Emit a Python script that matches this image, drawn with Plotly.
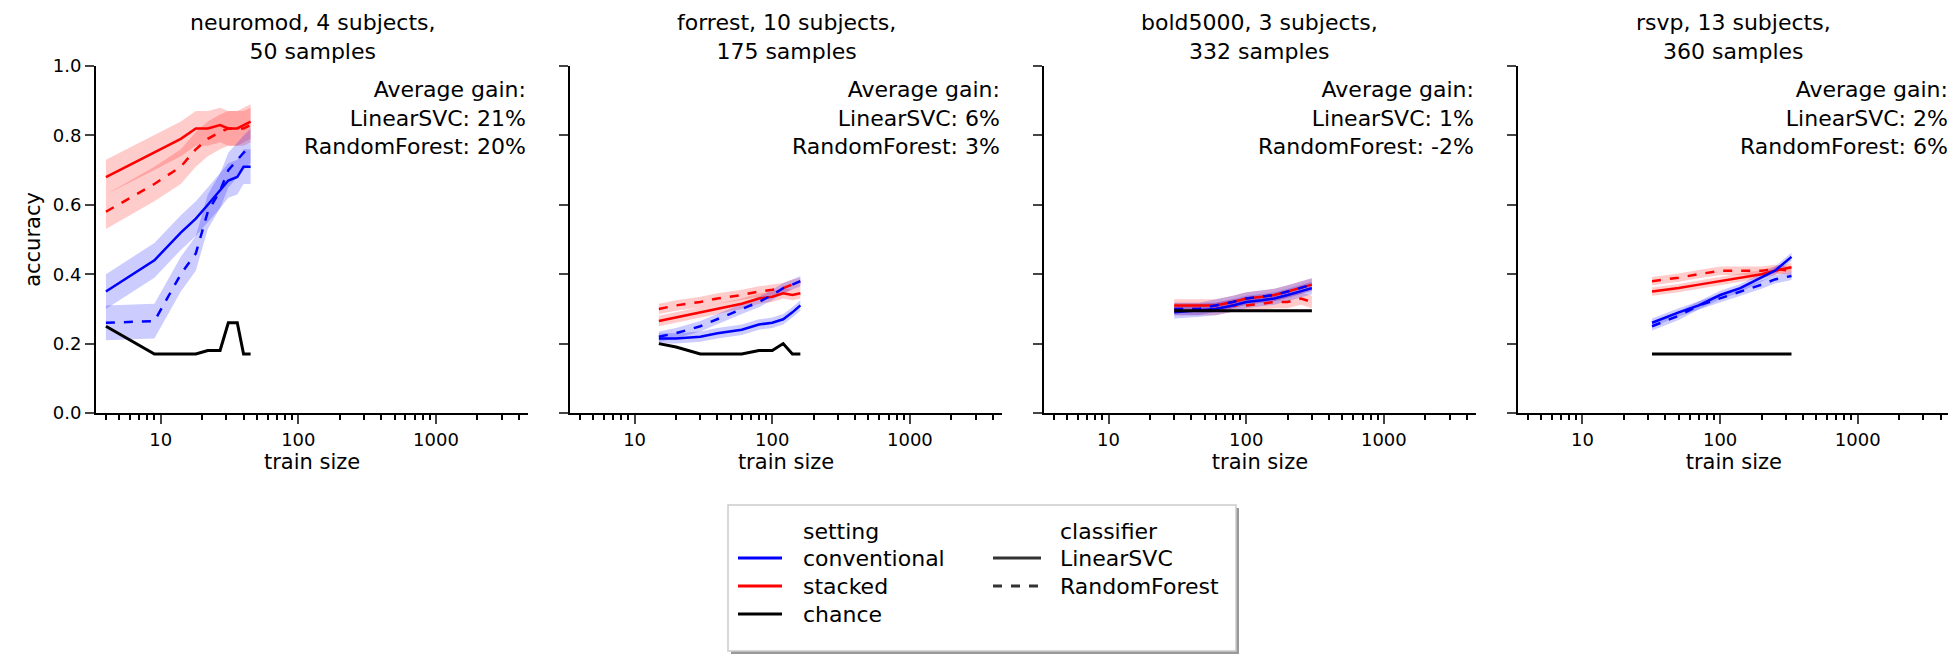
import numpy as np
import plotly.graph_objects as go
from plotly.subplots import make_subplots

titles = ["neuromod, 4 subjects,<br>50 samples", "forrest, 10 subjects,<br>175 samples",
          "bold5000, 3 subjects,<br>332 samples", "rsvp, 13 subjects,<br>360 samples"]
gains_svc = ["21%", "6%", "1%", "2%"]
gains_rf = ["20%", "3%", "-2%", "6%"]

neuromod_x = [4, 9, 14, 18, 22, 27, 31, 36, 40, 45]
neuromod_chance = [0.25, 0.17, 0.17, 0.17, 0.18, 0.18, 0.26, 0.26, 0.17, 0.17]
neuromod_conv_svc = [0.35, 0.44, 0.52, 0.56, 0.60, 0.64, 0.67, 0.68, 0.71, 0.71]
neuromod_conv_rf = [0.26, 0.265, 0.40, 0.46, 0.58, 0.64, 0.70, 0.73, 0.75, 0.77]
neuromod_stack_svc = [0.68, 0.75, 0.79, 0.82, 0.82, 0.83, 0.82, 0.82, 0.83, 0.84]
neuromod_stack_rf = [0.58, 0.66, 0.71, 0.76, 0.79, 0.81, 0.82, 0.82, 0.82, 0.83]
neuromod_err = [0.05, 0.05, 0.05, 0.05, 0.05, 0.05, 0.05, 0.05, 0.05, 0.05]

forrest_x = [15, 20, 30, 40, 60, 80, 100, 120, 140, 160]
forrest_chance = [0.20, 0.19, 0.17, 0.17, 0.17, 0.18, 0.18, 0.20, 0.17, 0.17]
forrest_conv_svc = [0.215, 0.215, 0.22, 0.23, 0.24, 0.255, 0.26, 0.27, 0.29, 0.31]
forrest_conv_rf = [0.22, 0.23, 0.25, 0.27, 0.30, 0.32, 0.34, 0.36, 0.37, 0.38]
forrest_stack_svc = [0.265, 0.275, 0.29, 0.30, 0.315, 0.33, 0.335, 0.345, 0.34, 0.345]
forrest_stack_rf = [0.30, 0.31, 0.32, 0.33, 0.34, 0.35, 0.355, 0.36, 0.37, 0.375]
forrest_err = [0.015] * 10

bold_x = [30, 45, 60, 80, 100, 130, 160, 200, 250, 300]
bold_chance = [0.295] * 10
bold_conv_svc = [0.29, 0.295, 0.30, 0.31, 0.32, 0.325, 0.33, 0.34, 0.35, 0.36]
bold_conv_rf = [0.30, 0.30, 0.31, 0.32, 0.33, 0.335, 0.34, 0.35, 0.36, 0.37]
bold_stack_svc = [0.31, 0.31, 0.31, 0.32, 0.33, 0.335, 0.34, 0.35, 0.36, 0.37]
bold_stack_rf = [0.30, 0.30, 0.30, 0.31, 0.31, 0.315, 0.32, 0.32, 0.33, 0.32]
bold_err = [0.018] * 10

rsvp_x = [32, 50, 70, 100, 140, 200, 250, 330]
rsvp_chance = [0.17] * 8
rsvp_conv_svc = [0.26, 0.29, 0.31, 0.34, 0.36, 0.39, 0.41, 0.45]
rsvp_conv_rf = [0.25, 0.28, 0.31, 0.33, 0.35, 0.37, 0.385, 0.395]
rsvp_stack_svc = [0.35, 0.36, 0.37, 0.38, 0.39, 0.40, 0.41, 0.42]
rsvp_stack_rf = [0.38, 0.39, 0.40, 0.41, 0.41, 0.41, 0.415, 0.41]
rsvp_err = [0.012] * 8

panels = [
    (neuromod_x, neuromod_chance, neuromod_conv_svc, neuromod_conv_rf, neuromod_stack_svc, neuromod_stack_rf, neuromod_err),
    (forrest_x, forrest_chance, forrest_conv_svc, forrest_conv_rf, forrest_stack_svc, forrest_stack_rf, forrest_err),
    (bold_x, bold_chance, bold_conv_svc, bold_conv_rf, bold_stack_svc, bold_stack_rf, bold_err),
    (rsvp_x, rsvp_chance, rsvp_conv_svc, rsvp_conv_rf, rsvp_stack_svc, rsvp_stack_rf, rsvp_err),
]

minor_vals = [m * 10 ** k for k in range(0, 4) for m in range(2, 10)]

W, H = 1956, 659
ML, MR, MT, MB = 88, 14, 58, 254
FONT = "DejaVu Sans"

fig = make_subplots(rows=1, cols=4, horizontal_spacing=0.0225, subplot_titles=titles)

def band(x, y, e, color, col):
    x = list(x); lo = [a - b for a, b in zip(y, e)]; hi = [a + b for a, b in zip(y, e)]
    fig.add_trace(go.Scatter(x=x + x[::-1], y=hi + lo[::-1], mode="lines", fill="toself", fillcolor=color,
                             line=dict(width=0), hoverinfo="skip", showlegend=False), row=1, col=col)

for i, (x, ch, cs, cr, ss, sr, e) in enumerate(panels):
    c = i + 1
    for y, col in [(ss, "rgba(255,0,0,0.2)"), (sr, "rgba(255,0,0,0.2)"),
                   (cs, "rgba(0,0,255,0.2)"), (cr, "rgba(0,0,255,0.2)")]:
        band(x, y, e, col, c)
    for y, col, dash in [(ss, "red", "solid"), (sr, "red", "dash"),
                         (cs, "blue", "solid"), (cr, "blue", "dash")]:
        fig.add_trace(go.Scatter(x=x, y=y, mode="lines", line=dict(color=col, width=2.5, dash=dash),
                                 showlegend=False), row=1, col=c)
    fig.add_trace(go.Scatter(x=x, y=ch, mode="lines", line=dict(color="black", width=3),
                             showlegend=False), row=1, col=c)
    xref = "x domain" if c == 1 else f"x{c} domain"
    yref = "y domain" if c == 1 else f"y{c} domain"
    fig.add_annotation(x=1.0, y=0.975, xref=xref, yref=yref, xanchor="right", yanchor="top",
                       align="right", showarrow=False,
                       text=f"Average gain:<br>LinearSVC: {gains_svc[i]}<br>RandomForest: {gains_rf[i]}",
                       font=dict(family=FONT, size=22, color="black"))
    fig.update_xaxes(type="log", range=[0.53, 3.67], tickvals=[10, 100, 1000], ticktext=["10", "100", "1000"],
                     ticks="outside", ticklen=9, tickwidth=2, showline=True, linewidth=2, linecolor="black",
                     showgrid=False, zeroline=False,
                     title=dict(text="train size", font=dict(family=FONT, size=21), standoff=4),
                     tickfont=dict(family=FONT, size=18),
                     minor=dict(tickvals=minor_vals, ticks="outside", ticklen=5, tickwidth=1.5,
                                tickcolor="black", showgrid=False),
                     row=1, col=c)
    fig.update_yaxes(range=[0, 1], tickvals=[0, 0.2, 0.4, 0.6, 0.8, 1.0], tickformat=".1f",
                     ticks="outside", ticklen=9, tickwidth=2, showline=True, linewidth=2, linecolor="black",
                     showgrid=False, zeroline=False, showticklabels=(c == 1),
                     tickfont=dict(family=FONT, size=18), row=1, col=c)

fig.update_yaxes(title=dict(text="accuracy", font=dict(family=FONT, size=21), standoff=6), row=1, col=1)
for a in fig.layout.annotations[:4]:
    a.font = dict(family=FONT, size=22, color="black")
    a.y = 1.0
    a.yanchor = "bottom"

# manual legend (paper coords)
PW = W - ML - MR; PH = H - MT - MB
def px(X): return (X - ML) / PW
def py(Y): return (H - MB - Y) / PH

fig.add_shape(type="rect", xref="paper", yref="paper", x0=px(723), x1=px(1231), y0=py(646), y1=py(500),
              fillcolor="#999999", line=dict(width=0), layer="below")
fig.add_shape(type="rect", xref="paper", yref="paper", x0=px(720), x1=px(1228), y0=py(643), y1=py(497),
              fillcolor="white", line=dict(color="#cccccc", width=1.5))
rows_y = [523, 550, 578, 606]
leg1 = [("setting", None), ("conventional", "blue"), ("stacked", "red"), ("chance", "black")]
leg2 = [("classifier", None), ("LinearSVC", "solid"), ("RandomForest", "dash")]
for (txt, col), Y in zip(leg1, rows_y):
    if col:
        fig.add_shape(type="line", xref="paper", yref="paper", x0=px(730), x1=px(774), y0=py(Y), y1=py(Y),
                      line=dict(color=col, width=3))
    fig.add_annotation(x=px(793), y=py(Y), xref="paper", yref="paper", xanchor="left", yanchor="middle",
                       showarrow=False, text=txt, font=dict(family=FONT, size=22, color="black"))
for (txt, dash), Y in zip(leg2, rows_y):
    if dash:
        fig.add_shape(type="line", xref="paper", yref="paper", x0=px(985), x1=px(1033), y0=py(Y), y1=py(Y),
                      line=dict(color="#333333", width=3, dash=dash))
    fig.add_annotation(x=px(1050), y=py(Y), xref="paper", yref="paper", xanchor="left", yanchor="middle",
                       showarrow=False, text=txt, font=dict(family=FONT, size=22, color="black"))

fig.update_layout(width=W, height=H, margin=dict(l=ML, r=MR, t=MT, b=MB),
                  plot_bgcolor="white", paper_bgcolor="white", showlegend=False,
                  font=dict(family=FONT, color="black"))
fig.write_html("out.html")
